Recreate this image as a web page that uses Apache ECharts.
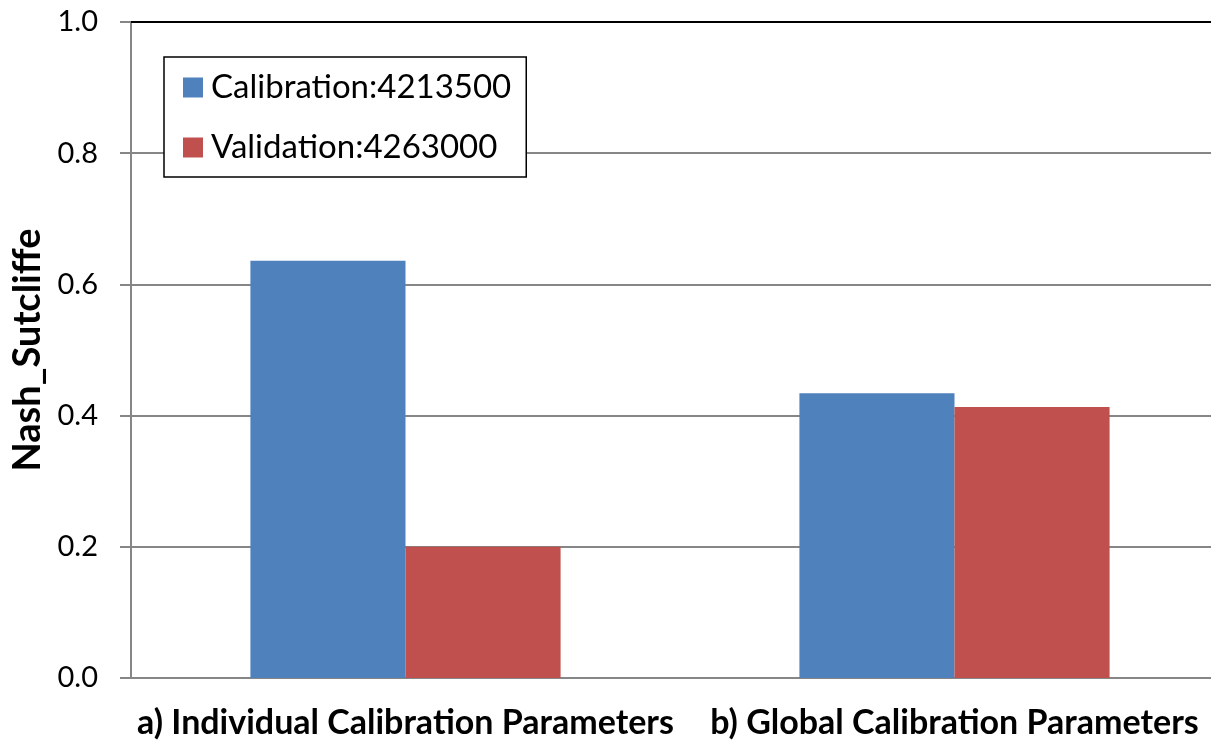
<!DOCTYPE html>
<html>
<head>
<meta charset="utf-8">
<script src="https://cdn.jsdelivr.net/npm/echarts@6/dist/echarts.min.js"></script>
<style>
  html, body { margin: 0; padding: 0; background: #fff; overflow: hidden; }
  /* the plot in the original runs past the right edge of the picture */
  #chart { width: 1229px; height: 743px; }
</style>
</head>
<body>
<div id="chart"></div>
<script>
// categories and values
const categories = ['a) Individual Calibration Parameters', 'b) Global Calibration Parameters'];
const calibration = [0.636, 0.434];
const validation = [0.2, 0.413];
const seriesNames = ['Calibration:4213500', 'Validation:4263000'];

const FONT = 'Lato';
const chart = echarts.init(document.getElementById('chart'));

const options = {
  animation: false,
  color: ['#4F81BD', '#C0504D'],
  textStyle: { fontFamily: FONT },
  legend: {
    orient: 'vertical',
    left: 164,
    top: 57,
    padding: [14, 15, 13, 19],
    itemWidth: 20,
    itemHeight: 20,
    itemGap: 27,
    icon: 'rect',
    backgroundColor: '#fff',
    borderColor: '#000',
    borderWidth: 1.5,
    textStyle: { fontSize: 33, color: '#000', fontFamily: FONT, padding: [0, 0, 0, 3] },
    data: seriesNames
  },
  grid: { left: 131, top: 22, right: 0, bottom: 65 },
  xAxis: [{
    type: 'category',
    data: categories,
    axisLine: { lineStyle: { color: '#868686', width: 2 } },
    axisTick: { show: false },
    axisLabel: { interval: 0, fontSize: 34, fontWeight: 'bold', color: '#000', margin: 28, fontFamily: FONT }
  }, {
    type: 'category',
    position: 'top',
    data: categories,
    axisLine: { lineStyle: { color: '#000', width: 2 } },
    axisTick: { show: false },
    axisLabel: { show: false }
  }],
  yAxis: {
    type: 'value',
    min: 0,
    max: 1,
    interval: 0.2,
    name: 'Nash_Sutcliffe',
    nameLocation: 'middle',
    nameGap: 82,
    nameTextStyle: { fontSize: 38, fontWeight: 'bold', color: '#000', fontFamily: FONT },
    axisLine: { show: true, lineStyle: { color: '#868686', width: 2 } },
    axisTick: { show: true, length: 11, lineStyle: { color: '#868686', width: 2 } },
    axisLabel: { fontSize: 29, color: '#000', margin: 33, fontFamily: FONT,
      formatter: v => v.toFixed(1) },
    splitLine: { lineStyle: { color: '#868686', width: 2 } }
  },
  series: [{
    name: seriesNames[0],
    type: 'bar',
    data: calibration,
    barGap: '0%',
    barCategoryGap: '43.5%'
  }, {
    name: seriesNames[1],
    type: 'bar',
    data: validation,
    barGap: '0%',
    barCategoryGap: '43.5%'
  }]
};

chart.setOption(options);
</script>
</body>
</html>
